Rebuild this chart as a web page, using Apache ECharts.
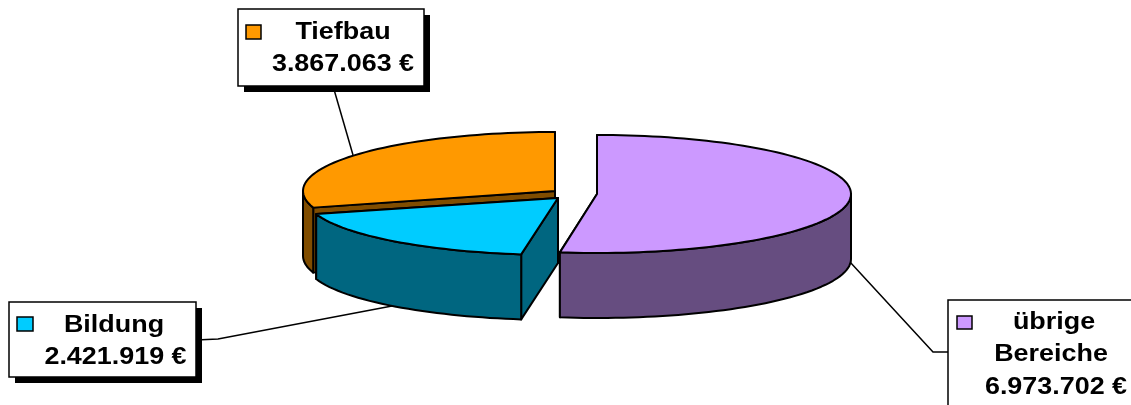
<!DOCTYPE html>
<html><head><meta charset="utf-8">
<style>html,body{margin:0;padding:0;background:#fff}#c{width:1131px;height:405px}</style>
<script src="https://cdn.jsdelivr.net/npm/echarts@6/dist/echarts.min.js"></script>
</head><body><div id="c"></div>
<script>
// Data, listed clockwise from 12 o'clock
const categories = ['übrige Bereiche', 'Bildung', 'Tiefbau'];
const values = [6973702, 2421919, 3867063];
const labelLines = [['übrige', 'Bereiche'], ['Bildung'], ['Tiefbau']];
const topColors = ['#CC99FF', '#00CCFF', '#FF9900'];
const wallColors = ['#664D80', '#006680', '#804D00'];

// Layout
const layout = [
  {cx: 597, cy: 194, rx: 254, ry: 59},
  {cx: 558, cy: 198, rx: 252, ry: 57},
  {cx: 555, cy: 191, rx: 252, ry: 59}
];
const depth = 65;
const tilt = 2.8; // small correction for the perspective of the original 3D view
const boxes = [
  {x: 948, y: 300, w: 200, h: 130, sw: [957, 316, 15, 13], tx: [1054, 1051], ty: [323, 355], vx: 1056, vy: 388,
   line: [[850, 262], [933, 352], [948, 352]]},
  {x: 9, y: 302, w: 187, h: 75, sw: [17, 317, 16, 14], tx: [114], ty: [326], vx: 115.5, vy: 358,
   line: [[196, 340], [218, 339], [392, 306]]},
  {x: 238, y: 9, w: 186, h: 77, sw: [246, 25, 15, 14], tx: [343], ty: [33], vx: 343, vy: 65,
   line: [[333, 86], [353, 155]]}
];

const total = values.reduce((a, b) => a + b, 0);
const money = v => String(v).replace(/\B(?=(\d{3})+$)/g, '.') + ' €';

let run = 0;
const seriesData = values.map((v, i) => {
  const start = run / total * 360;
  run += v;
  return {name: categories[i], value: [start, run / total * 360, i]};
}).reverse(); // back slices are painted first

const pt = (g, a, dy) => {
  const r = (a - tilt * Math.sin(2 * a * Math.PI / 180)) * Math.PI / 180;
  return [g.cx + g.rx * Math.sin(r), g.cy - g.ry * Math.cos(r) + (dy || 0)];
};
const rim = (g, a, b, dy) => {
  const out = [], n = Math.max(2, Math.ceil(Math.abs(b - a) / 2));
  for (let k = 0; k <= n; k++) out.push(pt(g, a + (b - a) * k / n, dy));
  return out;
};
const edge = {stroke: '#000', lineWidth: 2, lineJoin: 'round'};
const poly = (points, fill) => ({type: 'polygon', shape: {points}, style: Object.assign({fill}, edge)});

function renderItem(params, api) {
  const s = api.value(0), e = api.value(1), i = api.value(2);
  const g = layout[i], kids = [];
  const c = [g.cx, g.cy], cd = [g.cx, g.cy + depth];
  [e, s].forEach(a => kids.push(poly([c, pt(g, a), pt(g, a, depth), cd], wallColors[i])));
  const ws = Math.max(s, 90), we = Math.min(e, 270);
  if (we > ws) kids.push(poly(rim(g, ws, we).concat(rim(g, we, ws, depth)), wallColors[i]));
  kids.push(poly([c].concat(rim(g, s, e)), topColors[i]));
  return {type: 'group', children: kids};
}

const graphics = [];
boxes.forEach((b, i) => {
  graphics.push({type: 'polyline', z: 1, shape: {points: b.line}, style: {fill: null, stroke: '#000', lineWidth: 1.5}});
  graphics.push({type: 'rect', z: 5, shape: {x: b.x + 6, y: b.y + 6, width: b.w, height: b.h}, style: {fill: '#000'}});
  graphics.push({type: 'rect', z: 6, shape: {x: b.x, y: b.y, width: b.w, height: b.h}, style: {fill: '#fff', stroke: '#000', lineWidth: 1.5}});
  graphics.push({type: 'rect', z: 7, shape: {x: b.sw[0], y: b.sw[1], width: b.sw[2], height: b.sw[3]}, style: {fill: topColors[i], stroke: '#000', lineWidth: 1.5}});
  const txt = (text, x, y) => ({type: 'text', z: 7, x, y, scaleX: 1.17,
    style: {text, fill: '#000', font: 'bold 23px "Liberation Sans", Arial, sans-serif', textAlign: 'center', textVerticalAlign: 'middle'}});
  labelLines[i].forEach((t, k) => graphics.push(txt(t, b.tx[k], b.ty[k])));
  graphics.push(txt(money(values[i]), b.vx, b.vy));
});

const chart = echarts.init(document.getElementById('c'), null, {renderer: 'canvas'});
chart.setOption({
  animation: false,
  backgroundColor: '#fff',
  graphic: {elements: graphics},
  series: [{
    type: 'custom',
    coordinateSystem: 'none',
    z: 2,
    silent: true,
    renderItem,
    data: seriesData
  }]
});
</script></body></html>
